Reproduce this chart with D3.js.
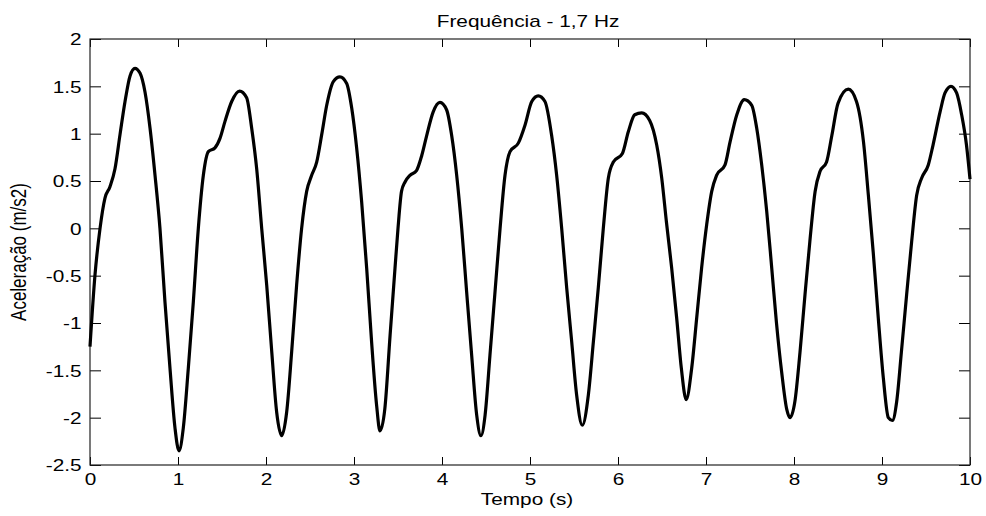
<!DOCTYPE html>
<html>
<head>
<meta charset="utf-8">
<script src="https://cdn.jsdelivr.net/npm/d3@7"></script>
<style>
  html, body { margin: 0; padding: 0; background: #fff; }
  text { font-family: "Liberation Sans", Arial, sans-serif; fill: #000; }
</style>
</head>
<body>
<div id="root"></div>
<script>
const times = [
  0.00, 0.057, 0.114, 0.17, 0.227, 0.284, 0.341, 0.398, 0.455, 0.511,
  0.568, 0.625, 0.682, 0.739, 0.795, 0.852, 0.909, 0.966, 1.011, 1.06,
  1.117, 1.174, 1.231, 1.288, 1.345, 1.42, 1.477, 1.534, 1.61, 1.70,
  1.78, 1.837, 1.894, 1.951, 2.008, 2.065, 2.121, 2.178, 2.235, 2.292,
  2.348, 2.405, 2.462, 2.519, 2.576, 2.633, 2.69, 2.765, 2.84, 2.917,
  2.974, 3.03, 3.087, 3.144, 3.20, 3.257, 3.295, 3.35, 3.41, 3.466,
  3.50, 3.54, 3.58, 3.636, 3.71, 3.77, 3.826, 3.90, 3.977, 4.053,
  4.11, 4.167, 4.224, 4.28, 4.337, 4.394, 4.443, 4.49, 4.545, 4.60,
  4.66, 4.716, 4.773, 4.867, 4.943, 5.02, 5.094, 5.17, 5.246, 5.303,
  5.36, 5.417, 5.474, 5.53, 5.594, 5.663, 5.72, 5.776, 5.833, 5.89,
  5.947, 6.05, 6.117, 6.19, 6.27, 6.36, 6.44, 6.497, 6.55, 6.61,
  6.667, 6.72, 6.775, 6.837, 6.894, 6.95, 7.008, 7.065, 7.12, 7.216,
  7.273, 7.35, 7.435, 7.52, 7.576, 7.633, 7.69, 7.747, 7.80, 7.86,
  7.917, 7.955, 8.01, 8.068, 8.125, 8.18, 8.24, 8.295, 8.37, 8.43,
  8.50, 8.617, 8.71, 8.79, 8.845, 8.90, 8.958, 9.015, 9.072, 9.117,
  9.167, 9.22, 9.28, 9.337, 9.394, 9.45, 9.526, 9.58, 9.66, 9.716,
  9.784, 9.848, 9.905, 9.96, 10.0,
];

const accel = [
  -1.25, -0.49, 0.00, 0.32, 0.44, 0.63, 0.99, 1.34, 1.61, 1.69,
  1.64, 1.44, 1.06, 0.56, 0.00, -0.78, -1.48, -2.11, -2.35, -2.11,
  -1.48, -0.78, 0.00, 0.56, 0.81, 0.85, 0.95, 1.13, 1.34, 1.45,
  1.38, 1.06, 0.63, 0.00, -0.60, -1.30, -1.94, -2.19, -1.94, -1.30,
  -0.60, 0.00, 0.39, 0.56, 0.70, 0.99, 1.30, 1.55, 1.60, 1.53,
  1.27, 0.85, 0.28, -0.42, -1.20, -1.87, -2.14, -1.91, -1.13, -0.42,
  0.00, 0.39, 0.49, 0.56, 0.61, 0.77, 0.98, 1.23, 1.33, 1.25,
  0.98, 0.56, 0.00, -0.67, -1.34, -1.97, -2.19, -1.97, -1.34, -0.70,
  0.00, 0.56, 0.81, 0.90, 1.09, 1.34, 1.40, 1.34, 0.98, 0.56,
  0.00, -0.63, -1.20, -1.76, -2.08, -1.76, -1.20, -0.63, 0.00, 0.53,
  0.70, 0.79, 1.02, 1.20, 1.22, 1.14, 0.88, 0.53, 0.07, -0.42,
  -0.95, -1.48, -1.81, -1.48, -0.95, -0.42, 0.04, 0.39, 0.56, 0.67,
  0.91, 1.20, 1.36, 1.30, 1.06, 0.67, 0.18, -0.42, -0.99, -1.52,
  -1.91, -2.00, -1.83, -1.31, -0.70, -0.14, 0.39, 0.60, 0.70, 0.98,
  1.32, 1.47, 1.34, 0.91, 0.35, -0.25, -0.95, -1.58, -2.00, -2.03,
  -1.83, -1.31, -0.70, -0.14, 0.35, 0.53, 0.67, 0.88, 1.23, 1.43,
  1.50, 1.43, 1.20, 0.88, 0.52,
];

const xTicks = [0, 1, 2, 3, 4, 5, 6, 7, 8, 9, 10];
const yTicks = [-2.5, -2, -1.5, -1, -0.5, 0, 0.5, 1, 1.5, 2];

const title = 'Frequência - 1,7 Hz';
const xLabel = 'Tempo (s)';
const yLabel = 'Aceleração (m/s2)';

const width = 986;
const height = 516;
const margin = { top: 39, right: 16, bottom: 51, left: 90 };
const stretch = 'scale(1.3,1)';

const svg = d3.select('#root').append('svg')
  .attr('width', width)
  .attr('height', height);

svg.append('rect')
  .attr('width', width)
  .attr('height', height)
  .attr('fill', '#fff');

const xScale = d3.scaleLinear()
  .domain([0, 10])
  .range([margin.left, width - margin.right]);

const yScale = d3.scaleLinear()
  .domain([-2.5, 2])
  .range([height - margin.bottom, margin.top]);

const plotW = xScale.range()[1] - xScale.range()[0];
const plotH = yScale.range()[0] - yScale.range()[1];

const plainFormat = d => String(d);

// bottom axis with inward ticks
const xAxis = svg.append('g')
  .attr('transform', `translate(0, ${yScale(-2.5)})`)
  .call(d3.axisBottom(xScale).tickValues(xTicks).tickFormat(plainFormat)
    .tickSize(-8).tickSizeOuter(0).tickPadding(0));
xAxis.selectAll('text')
  .attr('y', 0)
  .attr('dy', 20)
  .attr('font-size', 16)
  .attr('transform', stretch);

// top ticks
svg.append('g')
  .attr('transform', `translate(0, ${yScale(2)})`)
  .call(d3.axisTop(xScale).tickValues(xTicks).tickSize(-8).tickSizeOuter(0).tickFormat(''));

// left axis with inward ticks
const yAxis = svg.append('g')
  .attr('transform', `translate(${xScale(0)}, 0)`)
  .call(d3.axisLeft(yScale).tickValues(yTicks).tickFormat(plainFormat)
    .tickSize(-11).tickSizeOuter(0).tickPadding(0));
yAxis.selectAll('text')
  .attr('x', -6.5)
  .attr('dy', '0.36em')
  .attr('font-size', 16)
  .attr('transform', stretch);

// right ticks
svg.append('g')
  .attr('transform', `translate(${xScale(10)}, 0)`)
  .call(d3.axisRight(yScale).tickValues(yTicks).tickSize(-11).tickSizeOuter(0).tickFormat(''));

svg.selectAll('.domain').remove();
svg.selectAll('.tick line').attr('stroke', '#000');

// axes box
svg.append('rect')
  .attr('x', xScale(0))
  .attr('y', yScale(2))
  .attr('width', plotW)
  .attr('height', plotH)
  .attr('fill', 'none')
  .attr('stroke', '#222')
  .attr('stroke-width', 1.2);

const line = d3.line()
  .x((d, i) => xScale(times[i]))
  .y(d => yScale(d))
  .curve(d3.curveMonotoneX);

svg.append('path')
  .datum(accel)
  .attr('d', line)
  .attr('fill', 'none')
  .attr('stroke', '#000')
  .attr('stroke-width', 3.2)
  .attr('stroke-linejoin', 'round');

svg.append('text')
  .attr('transform', `translate(${xScale(5) - 2}, 27) ${stretch}`)
  .attr('text-anchor', 'middle')
  .attr('font-size', 16)
  .text(title);

svg.append('text')
  .attr('transform', `translate(${xScale(5) - 3}, 505) ${stretch}`)
  .attr('text-anchor', 'middle')
  .attr('font-size', 16)
  .text(xLabel);

svg.append('text')
  .attr('transform', `translate(26, ${(yScale(-2.5) + yScale(2)) / 2}) ${stretch} rotate(-90)`)
  .attr('text-anchor', 'middle')
  .attr('font-size', 17)
  .text(yLabel);
</script>
</body>
</html>
